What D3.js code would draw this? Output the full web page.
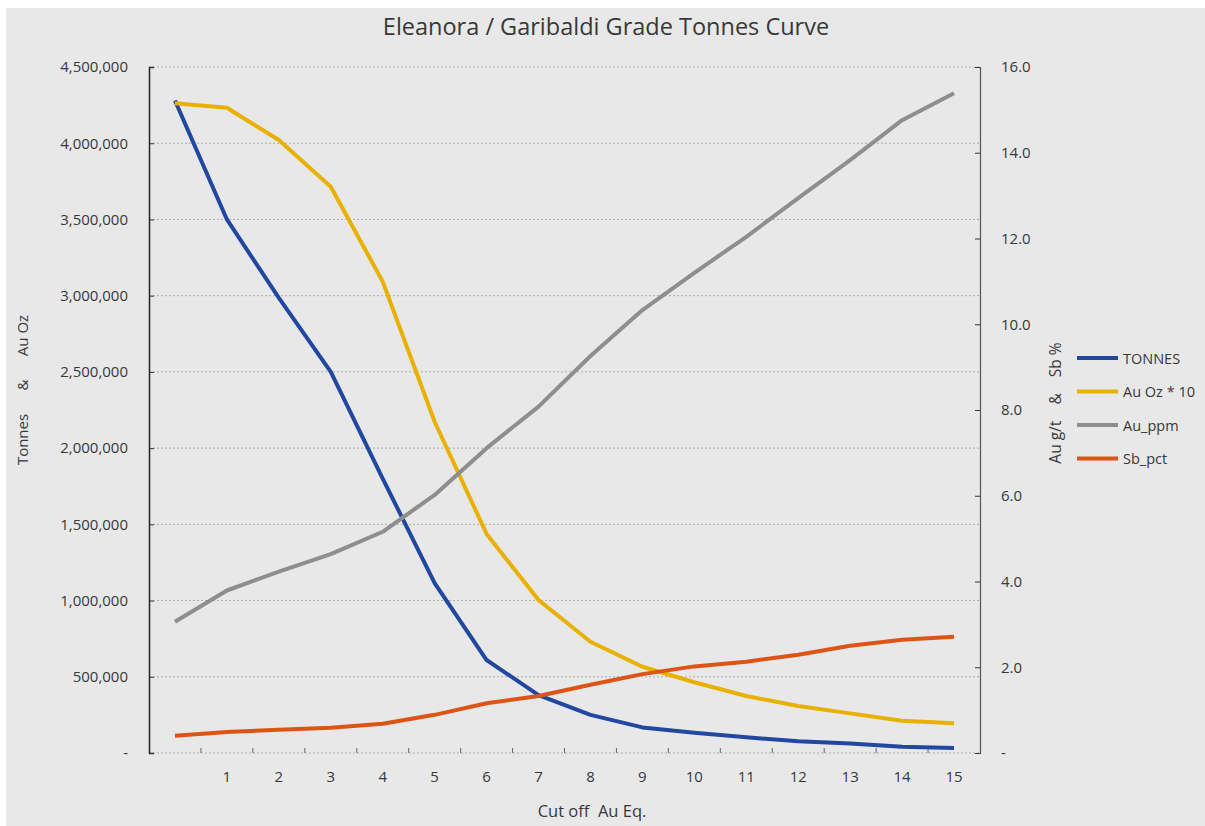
<!DOCTYPE html>
<html>
<head>
<meta charset="utf-8">
<script src="https://cdn.jsdelivr.net/npm/d3@7"></script>
<style>
  body { margin: 0; background: #fff; }
  text { font-family: "Open Sans", "Noto Sans", sans-serif; fill: #383838; }
</style>
</head>
<body>
<div id="chart"></div>
<script>
// Cut-off grade categories (first label left blank as in the source)
const cutoffs = [0, 1, 2, 3, 4, 5, 6, 7, 8, 9, 10, 11, 12, 13, 14, 15];
const cutoffLabels = ["", "1", "2", "3", "4", "5", "6", "7", "8", "9", "10", "11", "12", "13", "14", "15"];

// left axis series
const tonnes = [4280000, 3500000, 2985000, 2500000, 1800000, 1115000, 610000, 380000,
  250000, 168000, 133000, 103000, 77000, 63000, 41000, 33000];
const auOz10 = [4262000, 4233000, 4021000, 3715000, 3092000, 2173000, 1437000, 1004000,
  730000, 566000, 464000, 374000, 308000, 260000, 212000, 195000];

// right axis series
const auPpm = [3.06, 3.79, 4.23, 4.64, 5.16, 6.02, 7.11, 8.08, 9.26, 10.33, 11.2, 12.04,
  12.94, 13.83, 14.76, 15.39];
const sbPct = [0.40, 0.49, 0.54, 0.59, 0.68, 0.89, 1.16, 1.33, 1.59, 1.84, 2.02, 2.13,
  2.29, 2.50, 2.64, 2.71];

const leftTicks = [0, 500000, 1000000, 1500000, 2000000, 2500000, 3000000, 3500000, 4000000, 4500000];
const rightTicks = [0, 2, 4, 6, 8, 10, 12, 14, 16];

const seriesNames = ["TONNES", "Au Oz * 10", "Au_ppm", "Sb_pct"];
const seriesColors = ["#2147a0", "#e8b100", "#8e8e8e", "#dc5516"];

const width = 1205, height = 826;
const margin = { top: 67, right: 225, bottom: 73, left: 149 };

const svg = d3.select("#chart").append("svg")
  .attr("width", width)
  .attr("height", height);

// chart background
svg.append("rect")
  .attr("x", 6).attr("y", 8)
  .attr("width", width - 6).attr("height", height - 8)
  .attr("fill", "#e8e8e8");

const x = d3.scaleBand()
  .domain(cutoffs)
  .range([margin.left, width - margin.right]);
const yL = d3.scaleLinear()
  .domain([0, 4500000])
  .range([height - margin.bottom, margin.top]);
const yR = d3.scaleLinear()
  .domain([0, 16])
  .range([height - margin.bottom, margin.top]);

const xc = d => x(d) + x.bandwidth() / 2;
const x0 = margin.left, x1 = width - margin.right;
const yBase = height - margin.bottom;

// gridlines from the left axis
svg.append("g")
  .selectAll("line")
  .data(leftTicks)
  .join("line")
  .attr("x1", x0).attr("x2", x1)
  .attr("y1", d => yL(d)).attr("y2", d => yL(d))
  .attr("stroke", "#a9adb2")
  .attr("stroke-width", 1)
  .attr("stroke-dasharray", "2,2");

// left axis
const leftAxis = d3.axisRight(yL)
  .tickValues(leftTicks)
  .tickSize(5)
  .tickFormat(d => d === 0 ? "-" : d3.format(",")(d));
const gl = svg.append("g")
  .attr("transform", `translate(${x0},0)`)
  .call(leftAxis);
gl.select(".domain").attr("stroke", "#222").attr("stroke-width", 1.5);
gl.selectAll(".tick line").attr("stroke", "#333");
gl.selectAll(".tick text")
  .attr("x", -21)
  .attr("text-anchor", "end")
  .style("font-size", "15px")
  .style("font-family", "'Open Sans', sans-serif")
  .attr("fill", "#383838");

// right axis
const rightAxis = d3.axisLeft(yR)
  .tickValues(rightTicks)
  .tickSize(5)
  .tickFormat(d => d === 0 ? "-" : d3.format(".1f")(d));
const gr = svg.append("g")
  .attr("transform", `translate(${x1},0)`)
  .call(rightAxis);
gr.select(".domain").attr("stroke", "#555").attr("stroke-width", 1.2);
gr.selectAll(".tick line").attr("stroke", "#333");
gr.selectAll(".tick text")
  .attr("x", 21)
  .attr("text-anchor", "start")
  .style("font-size", "15px")
  .style("font-family", "'Open Sans', sans-serif")
  .attr("fill", "#383838");

// bottom category ticks at band edges (inside)
svg.append("g")
  .selectAll("line")
  .data(cutoffs.slice(1))
  .join("line")
  .attr("x1", d => x(d)).attr("x2", d => x(d))
  .attr("y1", yBase - 5).attr("y2", yBase)
  .attr("stroke", "#666");

svg.append("g")
  .selectAll("text")
  .data(cutoffs)
  .join("text")
  .attr("x", d => xc(d))
  .attr("y", yBase + 29)
  .attr("text-anchor", "middle")
  .style("font-size", "15px")
  .text((d, i) => cutoffLabels[i]);

// lines
const seriesData = [
  { name: seriesNames[0], values: tonnes, scale: yL },
  { name: seriesNames[1], values: auOz10, scale: yL },
  { name: seriesNames[2], values: auPpm, scale: yR },
  { name: seriesNames[3], values: sbPct, scale: yR }
];

seriesData.forEach((s, i) => {
  const line = d3.line()
    .x((d, j) => xc(cutoffs[j]))
    .y(d => s.scale(d));
  svg.append("path")
    .datum(s.values)
    .attr("fill", "none")
    .attr("stroke", seriesColors[i])
    .attr("stroke-width", 4)
    .attr("stroke-linejoin", "round")
    .attr("d", line);
});

// title
svg.append("text")
  .attr("x", 606).attr("y", 35)
  .attr("text-anchor", "middle")
  .style("font-size", "23.5px")
  .attr("fill", "#333")
  .text("Eleanora / Garibaldi Grade Tonnes Curve");

// axis titles
svg.append("text")
  .attr("transform", "translate(28,390) rotate(-90)")
  .attr("text-anchor", "middle")
  .style("font-size", "15px")
  .style("white-space", "pre")
  .text("Tonnes      &      Au Oz");

svg.append("text")
  .attr("transform", "translate(1061,403) rotate(-90)")
  .attr("text-anchor", "middle")
  .style("font-size", "15.5px")
  .style("white-space", "pre")
  .text("Au g/t    &    Sb %");

svg.append("text")
  .attr("x", 592).attr("y", 817)
  .attr("text-anchor", "middle")
  .style("font-size", "16.5px")
  .style("white-space", "pre")
  .text("Cut off  Au Eq.");

// legend
const legend = svg.append("g")
  .selectAll("g")
  .data(seriesNames)
  .join("g")
  .attr("transform", (d, i) => `translate(1077,${358 + i * 33.5})`);
legend.append("line")
  .attr("x1", 0).attr("x2", 41)
  .attr("stroke", (d, i) => seriesColors[i])
  .attr("stroke-width", 4);
legend.append("text")
  .attr("x", 46).attr("y", 5.5)
  .style("font-size", "14.5px")
  .text(d => d);
</script>
</body>
</html>
